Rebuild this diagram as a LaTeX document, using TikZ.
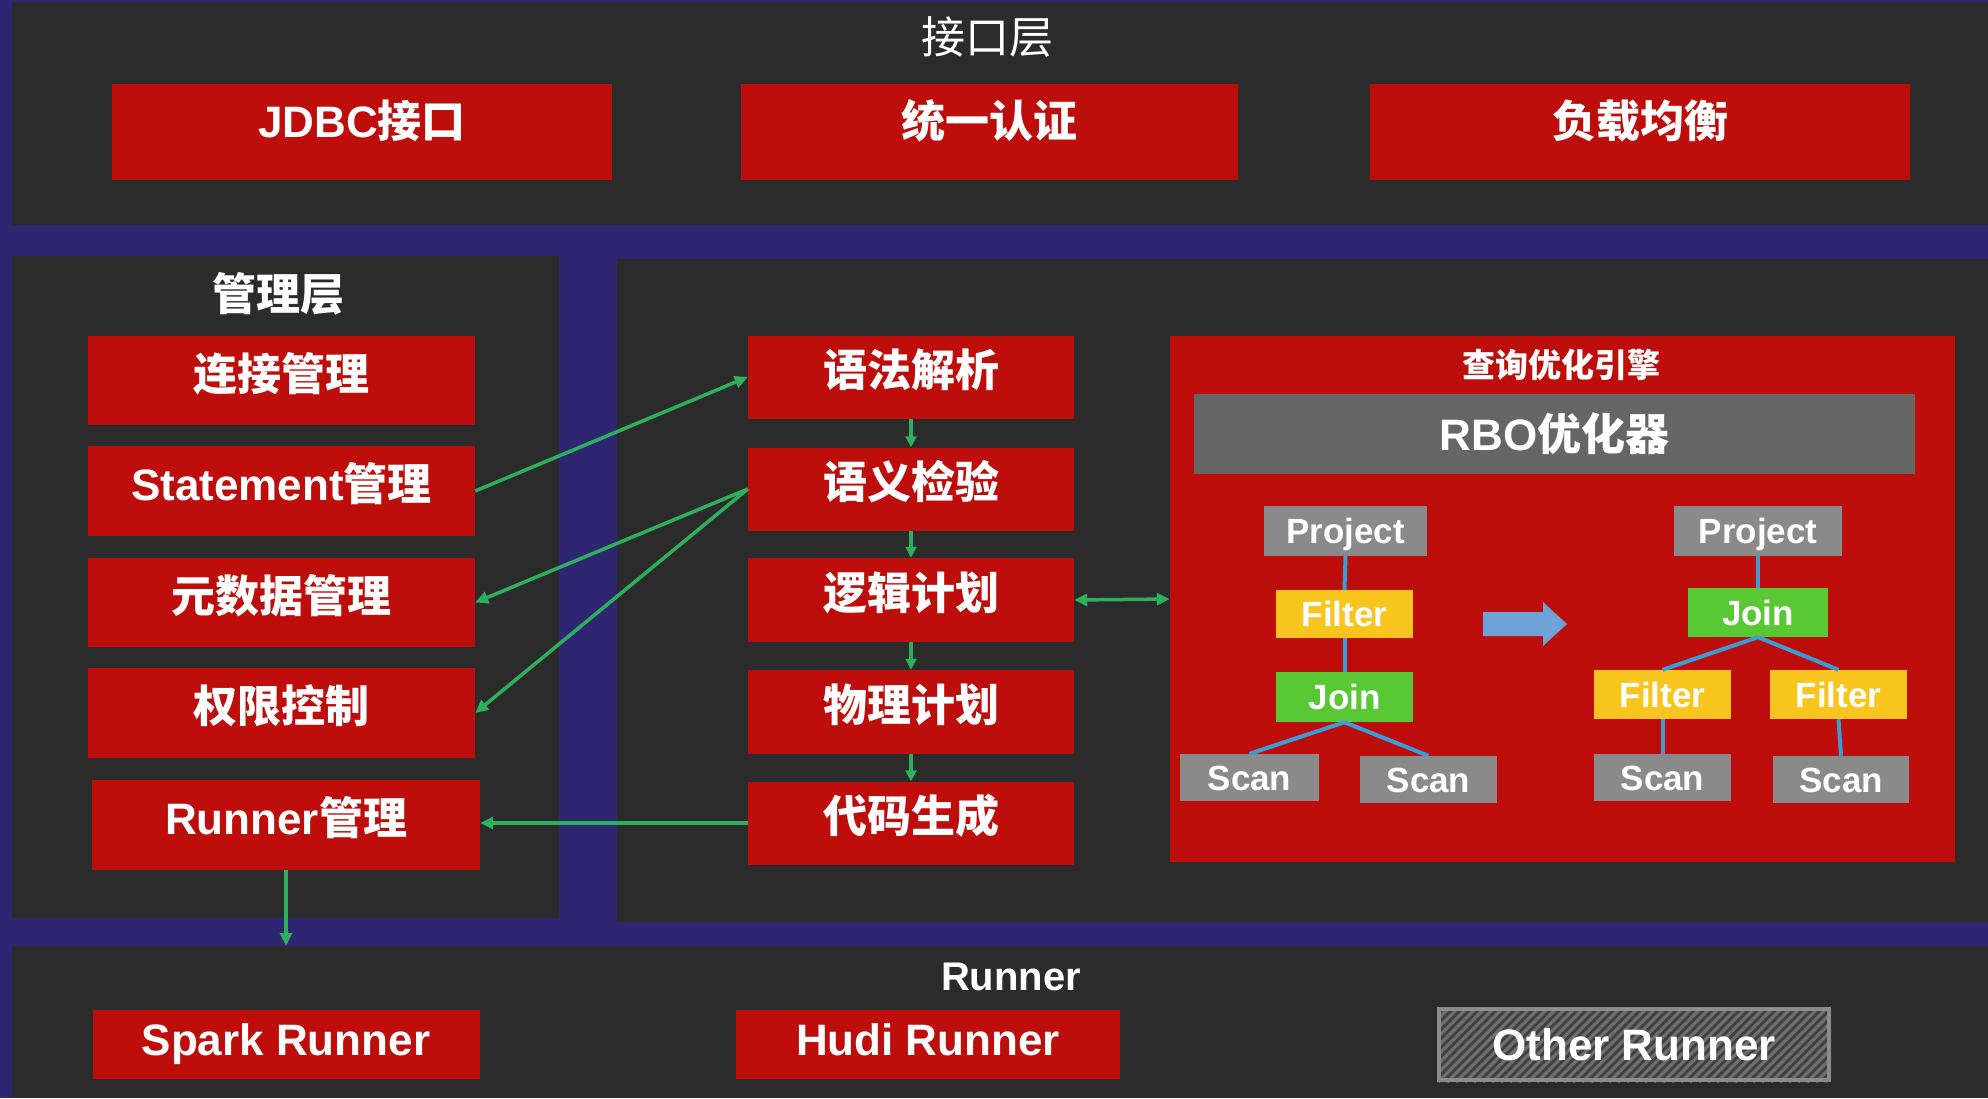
\documentclass[tikz,border=0pt]{standalone}
\usepackage{fontspec}
\setmainfont{Liberation Sans}
\newfontfamily\cjk{Noto Sans CJK SC}
\usetikzlibrary{arrows.meta}
\definecolor{cbg}{HTML}{2E2670}
\definecolor{cpanel}{HTML}{2B2B2B}
\definecolor{cred}{HTML}{BE0E0B}
\definecolor{crbo}{HTML}{666666}
\definecolor{ctree}{HTML}{8A8A8A}
\definecolor{cyel}{HTML}{F8C51F}
\definecolor{cgrn}{HTML}{58C934}
\definecolor{cline}{HTML}{3C9CD8}
\definecolor{carrow}{HTML}{2DB05B}
\definecolor{cbig}{HTML}{6EA2D9}
\definecolor{chatchbg}{HTML}{404040}
\definecolor{chatchfg}{HTML}{6E6E6E}
\definecolor{cborder}{HTML}{8C8C8C}
\newcommand\zhtxt[1]{{\cjk #1}}
\begin{document}
\begin{tikzpicture}[x=1pt,y=-1pt,
  wh/.style 2 args={minimum width=#1pt, minimum height=#2pt},
  txt/.style={text=white, inner sep=0pt, font=\fontsize{44}{50}\selectfont\bfseries, text height=35.2pt, text depth=15.4pt},
  redbox/.style={txt, fill=cred},
  topbox/.style={redbox, text depth=23.3pt},
  runbox/.style={redbox, text depth=12.3pt},
  treetxt/.style={txt, font=\fontsize{35}{40}\selectfont\bfseries, text height=28pt, text depth=2.8pt},
  gbox/.style={treetxt, fill=ctree},
  ybox/.style={treetxt, fill=cyel},
  grbox/.style={treetxt, fill=cgrn},
  title/.style={txt, text depth=3.5pt},
  garrow/.style={draw=carrow, line width=3.5pt, -{Triangle[length=13pt,width=12pt]}},
  tline/.style={draw=cline, line width=4pt},
]
% background and panels
\fill[cbg] (0,0) rectangle (1988,1098);
\fill[cpanel] (12,2) rectangle (1988,225);
\fill[cpanel] (12,256) rectangle (559,918);
\fill[cpanel] (617,259) rectangle (1988,922);
\fill[cpanel] (12,946) rectangle (1988,1098);

% interface layer
\node[title, font=\fontsize{44}{50}\selectfont] (ttop) at (987.5,37.5) {\zhtxt{接口层}};
\node[topbox, wh={500}{96}] (jdbc) at (362,132) {JDBC\zhtxt{接口}};
\node[topbox, wh={497}{96}] (auth) at (989.5,132) {\zhtxt{统一认证}};
\node[topbox, wh={540}{96}] (lb) at (1640,132) {\zhtxt{负载均衡}};

% management layer
\node[title] (tmgmt) at (278,295) {\zhtxt{管理层}};
\node[redbox, wh={387}{89}] (conn) at (281.5,380.5) {\zhtxt{连接管理}};
\node[redbox, wh={387}{90}] (stmt) at (281.5,491) {Statement\zhtxt{管理}};
\node[redbox, wh={387}{89}] (meta) at (281.5,602.5) {\zhtxt{元数据管理}};
\node[redbox, wh={387}{90}] (perm) at (281.5,713) {\zhtxt{权限控制}};
\node[redbox, wh={388}{90}] (runm) at (286,825) {Runner\zhtxt{管理}};

% middle column
\node[redbox, wh={326}{83}] (yf) at (911,377) {\zhtxt{语法解析}};
\node[redbox, wh={326}{83}] (yy) at (911,489) {\zhtxt{语义检验}};
\node[redbox, wh={326}{84}] (lj) at (911,600) {\zhtxt{逻辑计划}};
\node[redbox, wh={326}{84}] (wl) at (911,712) {\zhtxt{物理计划}};
\node[redbox, wh={326}{83}] (dm) at (911,823) {\zhtxt{代码生成}};

% optimizer
\node[fill=cred, inner sep=0pt, wh={785}{526}] (opt) at (1562.5,599) {};
\node[title, font=\fontsize{33}{38}\selectfont\bfseries, text height=26.4pt, text depth=2.6pt] (topt) at (1561,366) {\zhtxt{查询优化引擎}};
\node[txt, fill=crbo, wh={721}{80}, text depth=2.6pt] (rbo) at (1554.5,434) {RBO\zhtxt{优化器}};

% left tree
\node[gbox, wh={163}{50}] (lp) at (1345.5,531) {Project};
\node[ybox, wh={137}{48}] (lf) at (1344.5,614) {Filter};
\node[grbox, wh={137}{50}] (lj2) at (1344.5,697) {Join};
\node[gbox, wh={139}{47}] (ls1) at (1249.5,777.5) {Scan};
\node[gbox, wh={137}{47}] (ls2) at (1428.5,779.5) {Scan};
\draw[tline] (lp.south) -- (lf.north);
\draw[tline] (lf.south) -- (lj2.north);
\draw[tline] (lj2.south) -- (ls1.north);
\draw[tline] (lj2.south) -- (ls2.north);

% transform arrow
\fill[cbig] (1483,612) -- (1543,612) -- (1543,602) -- (1567,624) -- (1543,646) -- (1543,636) -- (1483,636) -- cycle;

% right tree
\node[gbox, wh={168}{50}] (rp) at (1758,531) {Project};
\node[grbox, wh={140}{49}] (rj) at (1758,612.5) {Join};
\node[ybox, wh={137}{49}] (rf1) at (1662.5,694.5) {Filter};
\node[ybox, wh={137}{49}] (rf2) at (1838.5,694.5) {Filter};
\node[gbox, wh={137}{47}] (rs1) at (1662.5,777.5) {Scan};
\node[gbox, wh={136}{47}] (rs2) at (1841,779.5) {Scan};
\draw[tline] (rp.south) -- (rj.north);
\draw[tline] (rj.south) -- (rf1.north);
\draw[tline] (rj.south) -- (rf2.north);
\draw[tline] (rf1.south) -- (rs1.north);
\draw[tline] (rf2.south) -- (rs2.north);

% runner layer
\node[title, font=\fontsize{40}{46}\selectfont\bfseries, text height=32pt, text depth=3.2pt] (trun) at (1011,976) {Runner};
\node[runbox, wh={387}{69}] (spark) at (286,1044.5) {Spark Runner};
\node[runbox, wh={384}{69}] (hudi) at (928,1044.5) {Hudi Runner};
\begin{scope}
  \clip (1437,1007) rectangle (1831,1082);
  \fill[chatchbg] (1437,1007) rectangle (1831,1082);
  \foreach \i in {0,...,56} {
    \draw[chatchfg, line width=3.2pt] (1437+\i*9-80,1082) -- ++(80,-80);
  }
\end{scope}
\node[txt, draw=cborder, line width=4pt, wh={390}{71}, text depth=3.5pt] (other) at (1634,1044.5) {Other Runner};

% connectors
\draw[garrow] (stmt.east) -- (yf.west);
\draw[garrow] (yy.west) -- (meta.east);
\draw[garrow] (yy.west) -- (perm.east);
\draw[garrow] (dm.west) -- (dm.west -| runm.east);
\coordinate (rmend) at (286,946);
\draw[garrow] (runm.south) -- (rmend);
\draw[garrow, -{Triangle[length=11pt,width=11pt]}] (yf.south) -- (yy.north);
\draw[garrow, -{Triangle[length=11pt,width=11pt]}] (yy.south) -- (lj.north);
\draw[garrow, -{Triangle[length=11pt,width=11pt]}] (lj.south) -- (wl.north);
\draw[garrow, -{Triangle[length=11pt,width=11pt]}] (wl.south) -- (dm.north);
\draw[garrow, {Triangle[length=13pt,width=12pt]}-{Triangle[length=13pt,width=12pt]}] (lj.east) -- (opt.west);
\end{tikzpicture}
\end{document}
